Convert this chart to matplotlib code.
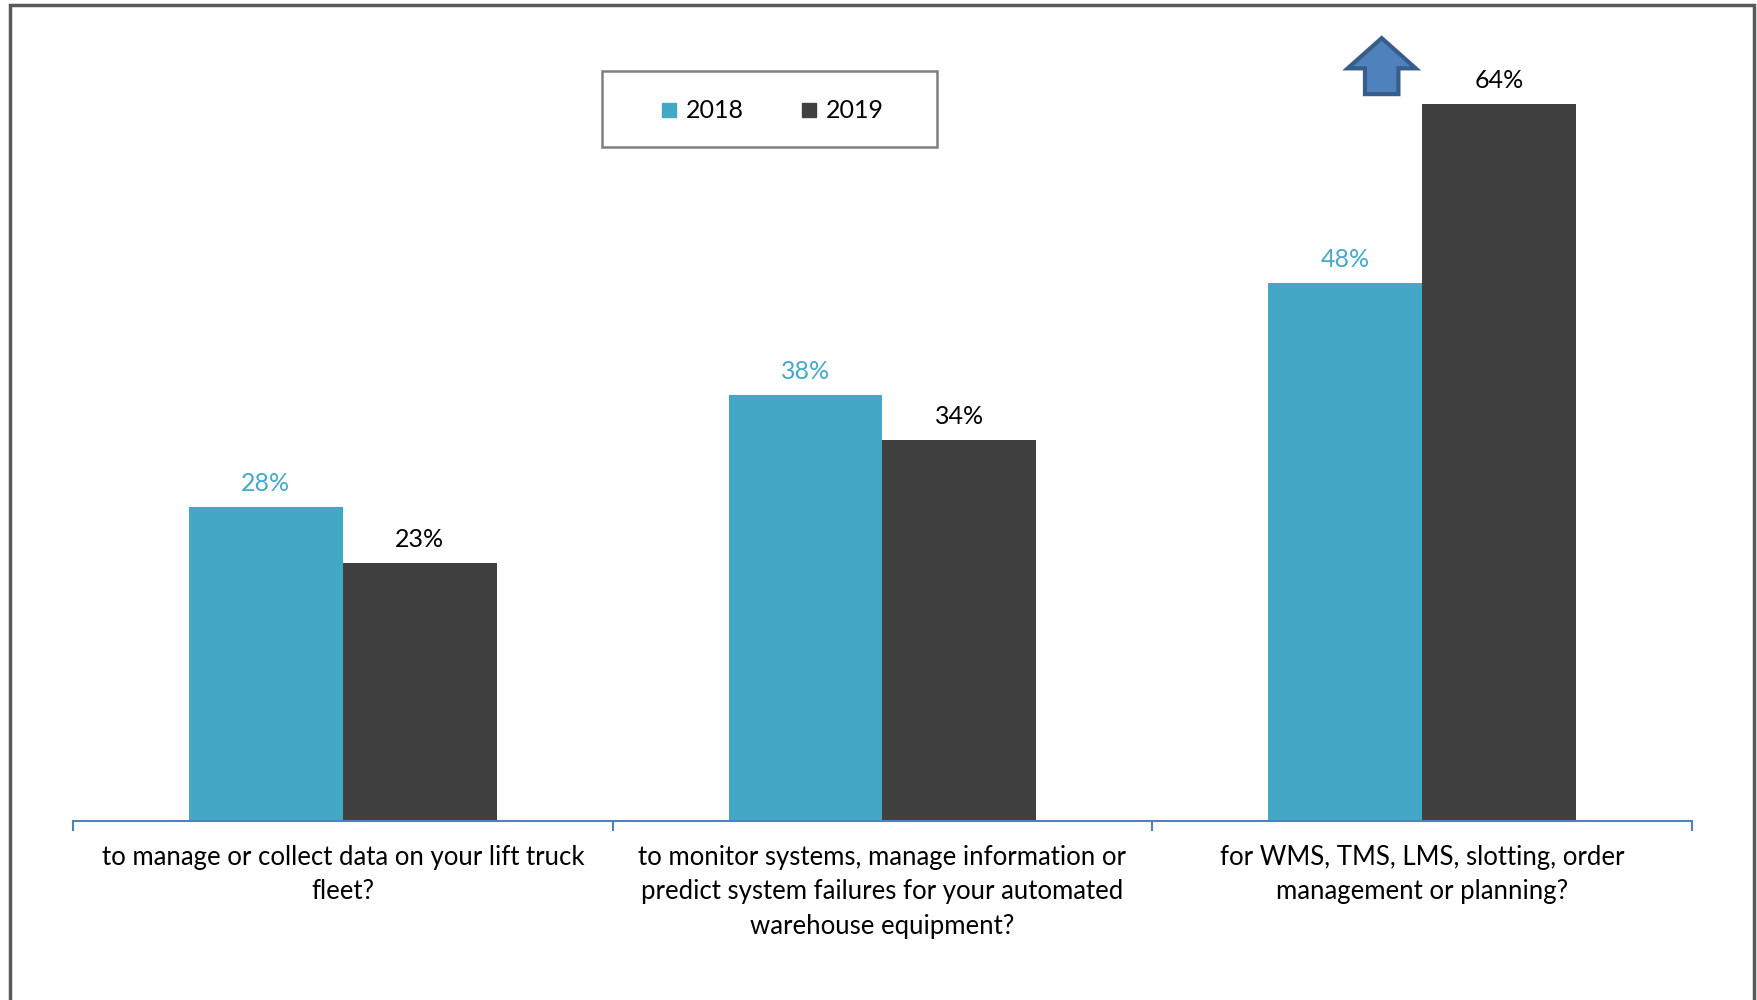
import matplotlib
matplotlib.use("Agg")
import matplotlib.pyplot as plt
from matplotlib.patches import Polygon, Rectangle
from matplotlib.lines import Line2D
import numpy as np

categories = [
    "to manage or collect data on your lift truck\nfleet?",
    "to monitor systems, manage information or\npredict system failures for your automated\nwarehouse equipment?",
    "for WMS, TMS, LMS, slotting, order\nmanagement or planning?",
]
series_names = ["2018", "2019"]
values_2018 = [28, 38, 48]
values_2019 = [23, 34, 64]

plt.rcParams["font.family"] = ["Lato", "DejaVu Sans"]

color_2018 = "#43A8C6"
color_2019 = "#404040"
label_2018 = "#45A9C7"
axis_blue = "#4F81BD"

W, H = 1758, 1000
fig = plt.figure(figsize=(W / 100, H / 100), dpi=100)
ax = fig.add_axes([73 / W, 1 - 821 / H, (1692 - 73) / W, (821 - 37) / H])

x = np.arange(len(categories))
w = 0.285
ax.bar(x - w / 2, values_2018, w, color=color_2018, label=series_names[0], zorder=2)
ax.bar(x + w / 2, values_2019, w, color=color_2019, label=series_names[1], zorder=2)

for xi, v in zip(x - w / 2, values_2018):
    ax.annotate(f"{v}%", (xi, v), xytext=(0, 12), textcoords="offset pixels",
                ha="center", va="bottom", fontsize=18, color=label_2018)
for xi, v in zip(x + w / 2, values_2019):
    ax.annotate(f"{v}%", (xi, v), xytext=(0, 12), textcoords="offset pixels",
                ha="center", va="bottom", fontsize=18, color="black")

ax.set_xlim(-0.5, len(categories) - 0.5)
ax.set_ylim(0, 70)

for side in ["top", "right", "left"]:
    ax.spines[side].set_visible(False)
ax.spines["bottom"].set_color(axis_blue)
ax.spines["bottom"].set_linewidth(1.5)
ax.set_yticks([])

# boundary tick marks between categories, labels centred under each group
ax.set_xticks(np.arange(-0.5, len(categories), 1.0))
ax.set_xticklabels([])
ax.tick_params(axis="x", which="major", direction="out", length=7, width=1.5, color=axis_blue)
ax.set_xticks(x, minor=True)
ax.set_xticklabels(categories, minor=True, fontsize=18.5, linespacing=1.48)
ax.tick_params(axis="x", which="minor", length=0, pad=17)

# up arrow beside the 2019 bar of the last group
cx = 2 - 0.075
hw, sw = 0.063, 0.031
arrow = [
    (cx, 69.9), (cx + hw, 67.2), (cx + sw, 67.2), (cx + sw, 64.9),
    (cx - sw, 64.9), (cx - sw, 67.2), (cx - hw, 67.2),
]
ax.add_patch(Polygon(arrow, closed=True, facecolor="#4F81BD", edgecolor="#385D8A",
                     linewidth=3, clip_on=False, zorder=3))

# legend: square swatches inside a plain grey box
handles = [Line2D([], [], linestyle="none", marker="s", markersize=10.5,
                  markerfacecolor=c, markeredgecolor=c) for c in (color_2018, color_2019)]
fig.legend(handles, series_names, loc="center",
           bbox_to_anchor=((602 + 937) / 2 / W + 3 / W, 1 - (71 + 147) / 2 / H - 2 / H),
           ncol=2, frameon=False, fontsize=18, handlelength=0.64,
           handletextpad=0.35, columnspacing=2.3, borderpad=0)
fig.patches.append(Rectangle((602 / W, 1 - 147 / H), (937 - 602) / W, (147 - 71) / H,
                             transform=fig.transFigure, fill=False,
                             edgecolor="#7F7F7F", linewidth=1.8))

# outer frame around the chart area
fig.patches.append(Rectangle((10 / W, -0.05), (1754 - 10) / W, 1.05 - 5 / H,
                             transform=fig.transFigure, fill=False,
                             edgecolor="#595959", linewidth=2.5))

fig.savefig("out.png", dpi=100)
